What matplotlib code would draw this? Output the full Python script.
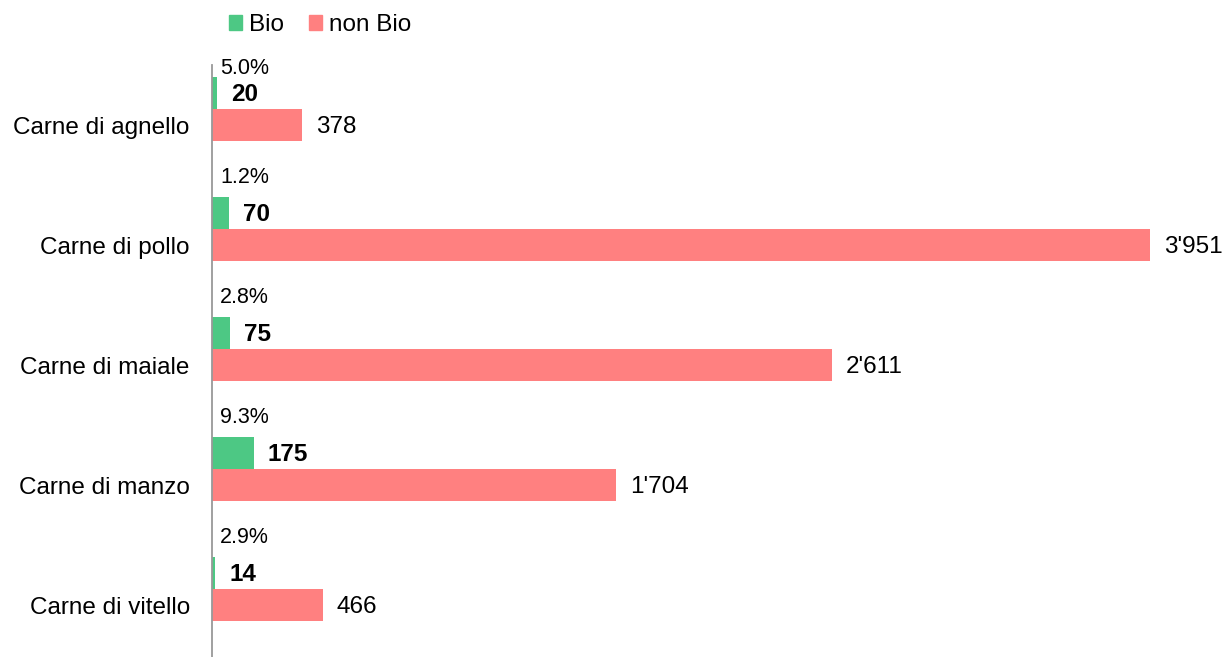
import matplotlib.pyplot as plt
from matplotlib.patches import Patch

plt.rcParams['font.family'] = ['Liberation Sans', 'DejaVu Sans']

categories = ['Carne di agnello', 'Carne di pollo', 'Carne di maiale', 'Carne di manzo', 'Carne di vitello']
bio = [20, 70, 75, 175, 14]
non_bio = [378, 3951, 2611, 1704, 466]
pct = ['5.0%', '1.2%', '2.8%', '9.3%', '2.9%']

green = '#4dc884'
red = '#ff8080'

def fmt(v):
    return f'{v:,}'.replace(',', "'")

fig = plt.figure(figsize=(12.23, 6.57), dpi=100)
ax = fig.add_axes([212 / 1223, 0, 997 / 1223, 592 / 657])

h = 0.262
pos = list(range(len(categories)))
bio_y = [p - 0.267 for p in pos]
ax.barh(pos, non_bio, height=h, color=red)
ax.barh(bio_y, bio, height=h, color=green)

for i, p in enumerate(pos):
    ax.annotate(fmt(non_bio[i]), (non_bio[i], p), xytext=(10, -1.5), textcoords='offset points',
                va='center', ha='left', fontsize=17.5)
    ax.annotate(fmt(bio[i]), (bio[i], bio_y[i]), xytext=(10, -1), textcoords='offset points',
                va='center', ha='left', fontsize=17.5, fontweight='bold')
    ty = max(p - 0.56, -0.475)
    ax.annotate(pct[i], (0, ty), xytext=(6, 0), textcoords='offset points',
                va='center', ha='left', fontsize=15.5)

ax.set_xlim(0, 4200)
ax.set_ylim(4.433, -0.5)
ax.set_yticks(pos)
ax.set_yticklabels(categories, fontsize=17.5)
ax.tick_params(axis='y', length=0, pad=16)
ax.set_xticks([])
for s in ['top', 'right', 'bottom']:
    ax.spines[s].set_visible(False)
ax.spines['left'].set_color('#999999')
ax.spines['left'].set_linewidth(1.3)

handles = [Patch(color=green, label='Bio'), Patch(color=red, label='non Bio')]
fig.legend(handles=handles, loc='center', bbox_to_anchor=(320 / 1223, 1 - 25 / 657), ncol=2,
           frameon=False, fontsize=17.5, handlelength=0.55, handleheight=0.55,
           handletextpad=0.3, columnspacing=1.0)

fig.savefig('out.png', dpi=100)
